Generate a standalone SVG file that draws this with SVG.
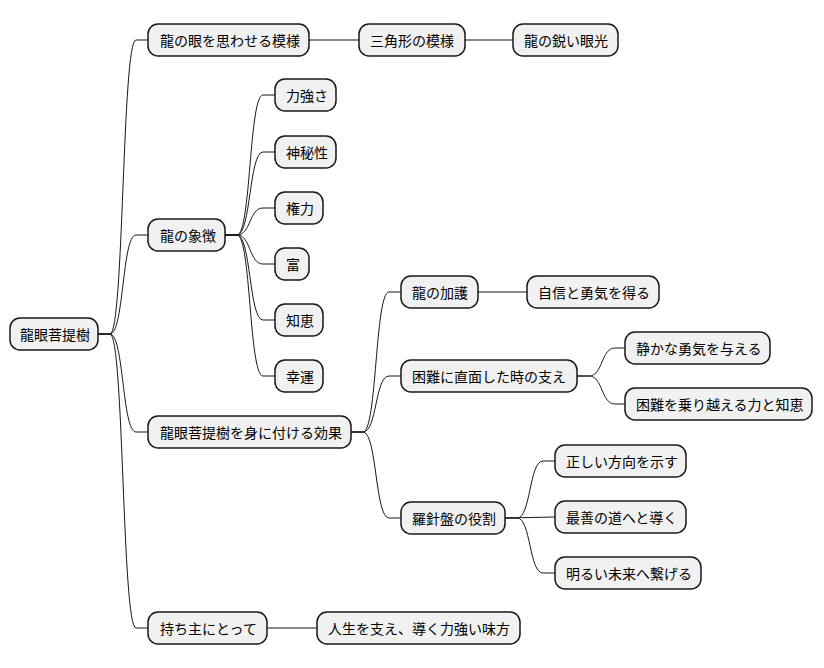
<svg xmlns="http://www.w3.org/2000/svg" width="824" height="668" viewBox="0 0 824 668">
<style>
.n rect{fill:#f1f1f1;stroke:#181818;stroke-width:1.5}
.n text{font-family:"Noto Sans CJK JP","Noto Sans",sans-serif;font-size:14px;fill:#000;dominant-baseline:central}
#c path{fill:none;stroke:#181818;stroke-width:1}
</style>
<rect width="824" height="668" fill="#fff"/>
<g id="c">
<path d="M98 334 L110 334 C124 334,122 40,136 40 L148 40"/>
<path d="M98 334 L110 334 C124 334,122 235,136 235 L148 235"/>
<path d="M98 334 L110 334 C124 334,122 432,136 432 L148 432"/>
<path d="M98 334 L110 334 C124 334,122 628,136 628 L148 628"/>
<path d="M309 40 L359 40"/>
<path d="M465 40 L513 40"/>
<path d="M225 235 L237 235 C251 235,249 95,263 95 L275 95"/>
<path d="M225 235 L237 235 C251 235,249 152,263 152 L275 152"/>
<path d="M225 235 L237 235 C251 235,249 208,263 208 L275 208"/>
<path d="M225 235 L237 235 C251 235,249 264,263 264 L275 264"/>
<path d="M225 235 L237 235 C251 235,249 320,263 320 L275 320"/>
<path d="M225 235 L237 235 C251 235,249 376,263 376 L275 376"/>
<path d="M351 432 L363 432 C377 432,375 292,389 292 L401 292"/>
<path d="M351 432 L363 432 C377 432,375 376,389 376 L401 376"/>
<path d="M351 432 L363 432 C377 432,375 518,389 518 L401 518"/>
<path d="M478 292 L527 292"/>
<path d="M577 376 L589 376 C603 376,601 348,615 348 L625 348"/>
<path d="M577 376 L589 376 C603 376,601 404,615 404 L625 404"/>
<path d="M505 518 L517 518 C531 518,529 461,543 461 L555 461"/>
<path d="M505 518 L555 517"/>
<path d="M505 518 L517 518 C531 518,529 573,543 573 L555 573"/>
<path d="M267 628 L317 628"/>
</g>
<g id="root" class="n"><rect x="10" y="318" width="88" height="32" rx="10"/><text x="20" y="334">龍眼菩提樹</text></g>
<g id="n1" class="n"><rect x="148" y="24" width="161" height="32" rx="10"/><text x="160" y="40">龍の眼を思わせる模様</text></g>
<g id="n11" class="n"><rect x="359" y="24" width="106" height="32" rx="10"/><text x="370" y="40">三角形の模様</text></g>
<g id="n111" class="n"><rect x="513" y="24" width="105" height="32" rx="10"/><text x="524" y="40">龍の鋭い眼光</text></g>
<g id="n2" class="n"><rect x="148" y="219" width="77" height="32" rx="10"/><text x="160" y="235">龍の象徴</text></g>
<g id="n21" class="n"><rect x="275" y="79" width="61" height="32" rx="10"/><text x="286" y="95">力強さ</text></g>
<g id="n22" class="n"><rect x="275" y="136" width="61" height="32" rx="10"/><text x="286" y="152">神秘性</text></g>
<g id="n23" class="n"><rect x="275" y="192" width="48" height="32" rx="10"/><text x="286" y="208">権力</text></g>
<g id="n24" class="n"><rect x="275" y="248" width="34" height="32" rx="10"/><text x="286" y="264">富</text></g>
<g id="n25" class="n"><rect x="275" y="304" width="48" height="32" rx="10"/><text x="286" y="320">知恵</text></g>
<g id="n26" class="n"><rect x="275" y="360" width="48" height="32" rx="10"/><text x="286" y="376">幸運</text></g>
<g id="n3" class="n"><rect x="148" y="416" width="203" height="32" rx="10"/><text x="160" y="432">龍眼菩提樹を身に付ける効果</text></g>
<g id="n31" class="n"><rect x="401" y="276" width="77" height="32" rx="10"/><text x="412" y="292">龍の加護</text></g>
<g id="n311" class="n"><rect x="527" y="276" width="132" height="32" rx="10"/><text x="538" y="292">自信と勇気を得る</text></g>
<g id="n32" class="n"><rect x="401" y="360" width="176" height="32" rx="10"/><text x="412" y="376">困難に直面した時の支え</text></g>
<g id="n321" class="n"><rect x="625" y="332" width="145" height="32" rx="10"/><text x="636" y="348">静かな勇気を与える</text></g>
<g id="n322" class="n"><rect x="625" y="388" width="187" height="32" rx="10"/><text x="636" y="404">困難を乗り越える力と知恵</text></g>
<g id="n33" class="n"><rect x="401" y="502" width="104" height="32" rx="10"/><text x="412" y="518">羅針盤の役割</text></g>
<g id="n331" class="n"><rect x="555" y="445" width="131" height="32" rx="10"/><text x="566" y="461">正しい方向を示す</text></g>
<g id="n332" class="n"><rect x="555" y="501" width="131" height="32" rx="10"/><text x="566" y="517">最善の道へと導く</text></g>
<g id="n333" class="n"><rect x="555" y="557" width="146" height="32" rx="10"/><text x="566" y="573">明るい未来へ繋げる</text></g>
<g id="n4" class="n"><rect x="148" y="612" width="119" height="32" rx="10"/><text x="160" y="628">持ち主にとって</text></g>
<g id="n41" class="n"><rect x="317" y="612" width="203" height="32" rx="10"/><text x="328" y="628">人生を支え、導く力強い味方</text></g>
</svg>
